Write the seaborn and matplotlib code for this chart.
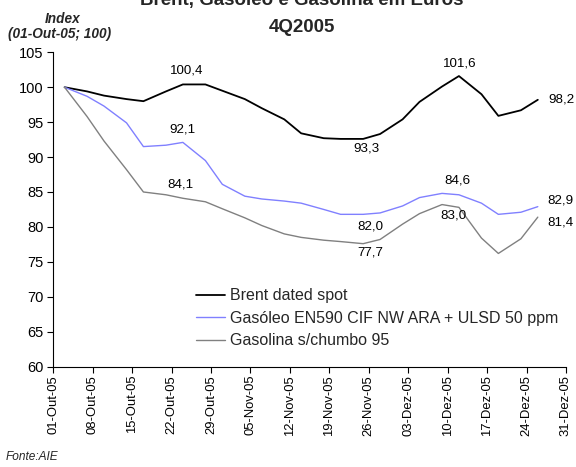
import matplotlib
matplotlib.use("Agg")
import matplotlib.pyplot as plt
import seaborn as sns
import pandas as pd

# ---- data ----
dates = ["2005-10-03", "2005-10-07", "2005-10-10", "2005-10-14", "2005-10-17",
         "2005-10-21", "2005-10-24", "2005-10-28", "2005-10-31", "2005-11-04",
         "2005-11-07", "2005-11-11", "2005-11-14", "2005-11-18", "2005-11-21",
         "2005-11-25", "2005-11-28", "2005-12-02", "2005-12-05", "2005-12-09",
         "2005-12-12", "2005-12-16", "2005-12-19", "2005-12-23", "2005-12-26"]
brent = [100.0, 99.4, 98.8, 98.3, 98.0, 99.4, 100.4, 100.4, 99.5, 98.3,
         97.0, 95.4, 93.4, 92.7, 92.6, 92.6, 93.3, 95.4, 97.9, 100.1,
         101.6, 99.0, 95.9, 96.7, 98.2]
gasoleo = [100.0, 98.7, 97.3, 94.9, 91.5, 91.7, 92.1, 89.5, 86.1, 84.4,
           84.0, 83.7, 83.4, 82.5, 81.8, 81.8, 82.0, 83.0, 84.2, 84.8,
           84.6, 83.4, 81.8, 82.1, 82.9]
gasolina = [100.0, 95.8, 92.3, 88.2, 85.0, 84.6, 84.1, 83.6, 82.6, 81.3,
            80.2, 79.0, 78.5, 78.1, 77.9, 77.6, 78.2, 80.4, 81.9, 83.2,
            82.8, 78.4, 76.2, 78.3, 81.4]
series_names = ["Brent dated spot",
                "Gasóleo EN590 CIF NW ARA + ULSD 50 ppm",
                "Gasolina s/chumbo 95"]
tick_dates = ["2005-10-01", "2005-10-08", "2005-10-15", "2005-10-22", "2005-10-29",
              "2005-11-05", "2005-11-12", "2005-11-19", "2005-11-26", "2005-12-03",
              "2005-12-10", "2005-12-17", "2005-12-24", "2005-12-31"]
tick_labels = ["01-Out-05", "08-Out-05", "15-Out-05", "22-Out-05", "29-Out-05",
               "05-Nov-05", "12-Nov-05", "19-Nov-05", "26-Nov-05", "03-Dez-05",
               "10-Dez-05", "17-Dez-05", "24-Dez-05", "31-Dez-05"]
# point value labels: text, anchor date, vertical position
label_texts = ["100,4", "92,1", "84,1", "93,3", "101,6", "98,2",
               "84,6", "82,9", "83,0", "81,4", "82,0", "77,7"]
label_dates = ["2005-10-24 17:00", "2005-10-24", "2005-10-23 12:00", "2005-11-25 14:00",
               "2005-12-12 05:00", "2005-12-30 05:00", "2005-12-11 19:00", "2005-12-30",
               "2005-12-11", "2005-12-30", "2005-11-26 05:00", "2005-11-26 07:00"]
label_y = [102.4, 94.0, 86.1, 91.2, 103.4, 98.3, 86.7, 83.8, 81.7, 80.7, 80.1, 76.4]

colors = ["#000000", "#8080FF", "#808080"]
widths = [1.3, 1.0, 1.0]

# ---- build frame ----
d = pd.to_datetime(dates)
df = pd.concat([
    pd.DataFrame({"date": d, "value": brent, "serie": series_names[0]}),
    pd.DataFrame({"date": d, "value": gasoleo, "serie": series_names[1]}),
    pd.DataFrame({"date": d, "value": gasolina, "serie": series_names[2]}),
], ignore_index=True)

sns.set_theme(style="white")
plt.rcParams["font.family"] = ["Liberation Sans", "DejaVu Sans"]

fig = plt.figure(figsize=(5.76, 4.67), dpi=100)
ax = fig.add_axes([0.0925, 0.215, 0.8901, 0.673])

sns.lineplot(data=df, x="date", y="value", hue="serie", hue_order=series_names,
             palette=colors, linewidth=1.1, ax=ax, legend=True)
for line, lw in zip(ax.get_lines()[:3], widths):
    line.set_linewidth(lw)

ax.set_xlim(pd.Timestamp("2005-10-01"), pd.Timestamp("2005-12-31"))
ax.set_ylim(60, 105)
ax.set_yticks(range(60, 106, 5))
ax.set_xticks(pd.to_datetime(tick_dates))
ax.set_xticklabels(tick_labels, rotation=90)
ax.tick_params(axis="both", colors="black", length=4, width=0.8,
               direction="out", left=True, bottom=True)
ax.tick_params(axis="y", labelsize=10.5, pad=3)
ax.tick_params(axis="x", labelsize=9.4, pad=2)
ax.set_xlabel("")
ax.set_ylabel("")
for s in ["top", "right"]:
    ax.spines[s].set_visible(False)
for s in ["left", "bottom"]:
    ax.spines[s].set_color("black")
    ax.spines[s].set_linewidth(0.8)
ax.grid(False)

for t, dd, yy in zip(label_texts, label_dates, label_y):
    ax.text(pd.Timestamp(dd), yy, t, ha="center", va="center", fontsize=9.6, color="black")

leg = ax.legend(loc="center left", bbox_to_anchor=(0.266, 0.1537), frameon=False,
                fontsize=11.5, handlelength=1.8, handletextpad=0.32, labelspacing=0.48,
                borderaxespad=0)
for h, lw in zip(leg.get_lines(), widths):
    h.set_linewidth(lw)

fig.text(0.524, 0.989, "Brent, Gasóleo e Gasolina em Euros", ha="center", va="baseline",
         fontsize=13.5, fontweight="bold")
fig.text(0.524, 0.932, "4Q2005", ha="center", va="baseline", fontsize=13.5, fontweight="bold")
fig.text(0.108, 0.951, "Index", ha="center", va="baseline", fontsize=9.8,
         fontweight="bold", fontstyle="italic")
fig.text(0.104, 0.918, "(01-Out-05; 100)", ha="center", va="baseline", fontsize=9.8,
         fontweight="bold", fontstyle="italic")
fig.text(0.009, 0.021, "Fonte:AIE", ha="left", va="center", fontsize=8.6, fontstyle="italic")

fig.savefig("out.png", dpi=100)
